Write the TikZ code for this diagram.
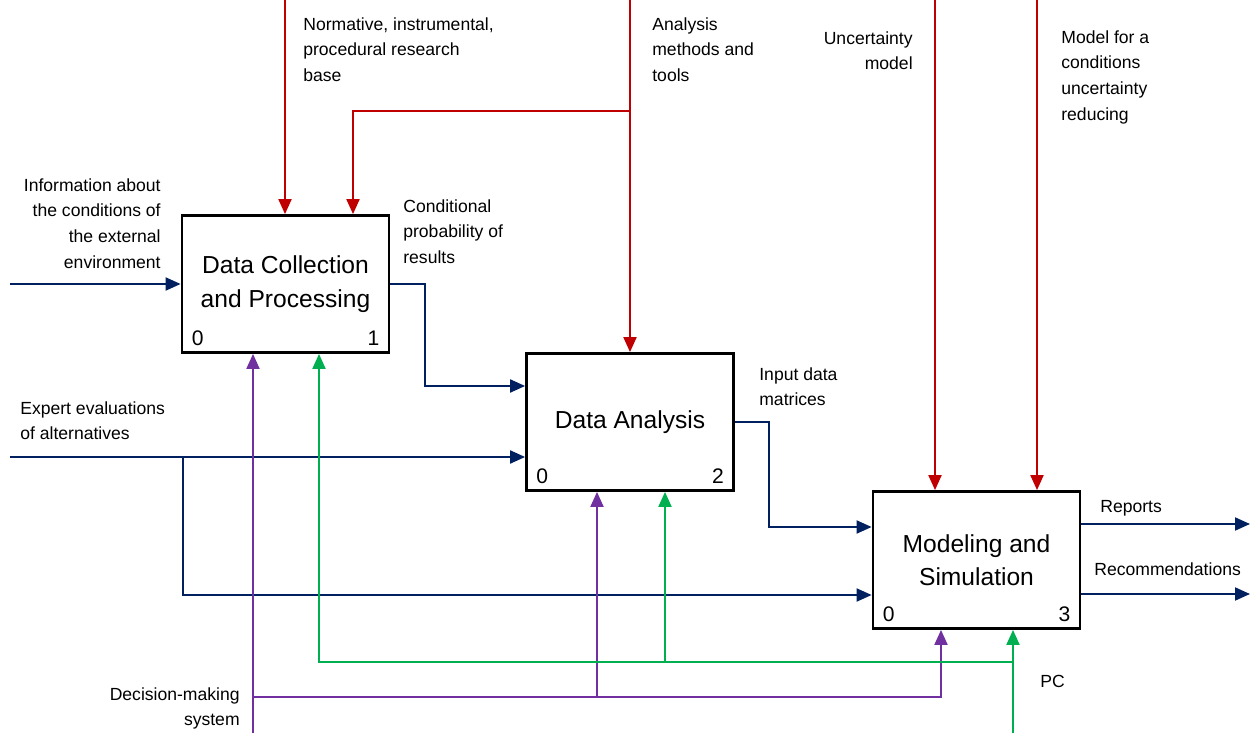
\documentclass[tikz,border=0pt]{standalone}
\usepackage{fontspec}
\setmainfont{Liberation Sans}
\usepackage{xcolor}
\usepackage{tikz}
\usetikzlibrary{arrows.meta, positioning, calc}
\definecolor{navy}{RGB}{0,32,96}
\definecolor{ctrlred}{RGB}{192,0,0}
\definecolor{mechpurple}{RGB}{112,48,160}
\definecolor{pcgreen}{RGB}{0,176,80}

\begin{document}
\begin{tikzpicture}[x=0.02cm, y=-0.02cm,
  func/.style={draw, line width=1.6pt, fill=white, minimum width=4.14cm, minimum height=2.74cm,
    align=center, inner sep=0pt, font=\fontsize{14}{19}\selectfont},
  lbl/.style={inner sep=0pt, font=\fontsize{10}{14.7}\selectfont},
  num/.style={inner sep=0pt, font=\fontsize{12}{14}\selectfont},
  flow/.style={line width=1.1pt, -{Triangle[length=0.3cm, width=0.26cm]}}]
  \useasboundingbox (0,0) rectangle (1253,733);

  % Function boxes
  \node[func] (b1) at (285.5,284) {Data Collection\\and Processing};
  \node[func] (b2) at (630,422) {Data Analysis};
  \node[func] (b3) at (976.5,560) {Modeling and\\Simulation};
  \foreach \b/\n in {b1/1, b2/2, b3/3} {
    \node[num] (\b zero) at ([shift={(17,-16)}]\b.south west) {0};
    \node[num] (\b num) at ([shift={(-17,-16)}]\b.south east) {\n};
  }

  % Free ends and bends
  \coordinate (inInfo) at (10,284);
  \coordinate (inExpert) at (10,457);
  \coordinate (splitExpert) at (183,457);
  \coordinate (ctlNorm) at (285,0);
  \coordinate (ctlTools) at (630,0);
  \coordinate (splitTools) at (630,111);
  \coordinate (ctlUnc) at (935,0);
  \coordinate (ctlRed) at (1037,0);
  \coordinate (bend1) at (425,386);
  \coordinate (bend2) at (769,527);
  \coordinate (outRep) at (1250,524);
  \coordinate (outRec) at (1250,594);
  \coordinate (mechDMS) at (253,733);
  \coordinate (splitDMS) at (253,697);
  \coordinate (tapDMS) at (597,697);
  \coordinate (mechPC) at (1013,733);
  \coordinate (splitPC) at (1013,662);
  \coordinate (tapPC) at (665,662);

  % Inputs and outputs
  \draw[flow, navy] (inInfo) -- (b1.west);
  \draw[flow, navy] (inExpert) -- (inExpert -| b2.west);
  \draw[flow, navy] (splitExpert) |- (b3.west |- 0,595);
  \draw[flow, navy] (b1.east) -| (bend1) -- (bend1 -| b2.west);
  \draw[flow, navy] (b2.east) -| (bend2) -- (bend2 -| b3.west);
  \draw[flow, navy] (b3.east |- outRep) -- (outRep);
  \draw[flow, navy] (b3.east |- outRec) -- (outRec);

  % Controls
  \draw[flow, ctrlred] (ctlNorm) -- (ctlNorm |- b1.north);
  \draw[flow, ctrlred] (ctlTools) -- (b2.north);
  \draw[flow, ctrlred] (splitTools) -| (353,0 |- b1.north);
  \draw[flow, ctrlred] (ctlUnc) -- (ctlUnc |- b3.north);
  \draw[flow, ctrlred] (ctlRed) -- (ctlRed |- b3.north);

  % Mechanisms
  \draw[flow, mechpurple] (mechDMS) -- (mechDMS |- b1.south);
  \draw[flow, mechpurple] (splitDMS) -| (941,0 |- b3.south);
  \draw[flow, mechpurple] (tapDMS) -- (tapDMS |- b2.south);
  \draw[flow, pcgreen] (mechPC) -- (mechPC |- b3.south);
  \draw[flow, pcgreen] (splitPC) -| (319,0 |- b1.south);
  \draw[flow, pcgreen] (tapPC) -- (tapPC |- b2.south);

  % Labels
  \node[lbl, anchor=north west, align=left] (lNorm) at (303,17) {Normative, instrumental,\\procedural research\\base};
  \node[lbl, anchor=north west, align=left] (lTools) at (652,17) {Analysis\\methods and\\tools};
  \node[lbl, anchor=north east, align=right] (lUnc) at (913,31) {Uncertainty\\model};
  \node[lbl, anchor=north west, align=left] (lRed) at (1061,30) {Model for a\\conditions\\uncertainty\\reducing};
  \node[lbl, anchor=north east, align=right] (lInfo) at (161,178) {Information about\\the conditions of\\the external\\environment};
  \node[lbl, anchor=north west, align=left] (lCond) at (403,199) {Conditional\\probability of\\results};
  \node[lbl, anchor=north west, align=left] (lExpert) at (20,401) {Expert evaluations\\of alternatives};
  \node[lbl, anchor=north west, align=left] (lInput) at (759,367) {Input data\\matrices};
  \node[lbl, anchor=north west] (lRep) at (1100,500) {Reports};
  \node[lbl, anchor=north west] (lRec) at (1094,562) {Recommendations};
  \node[lbl, anchor=north west] (lPC) at (1040,675) {PC};
  \node[lbl, anchor=north east, align=right] (lDMS) at (240,687) {Decision-making\\system};
\end{tikzpicture}
\end{document}
